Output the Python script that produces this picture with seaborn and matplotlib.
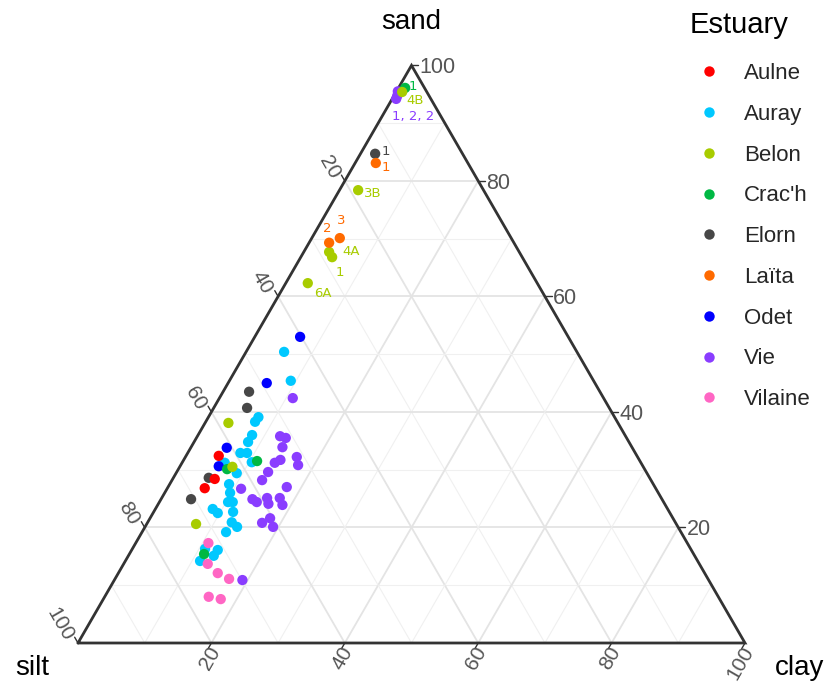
import numpy as np
import pandas as pd
import matplotlib
matplotlib.use("Agg")
import matplotlib.pyplot as plt
from matplotlib.lines import Line2D
import seaborn as sns

# ---------------- data (percent sand / silt / clay) ----------------
estuaries = ["Aulne", "Auray", "Belon", "Crac'h", "Elorn", "Laïta", "Odet", "Vie", "Vilaine"]
colors = ["#FF0000", "#00C8FF", "#A8CC00", "#00B844", "#474747", "#FF6A00", "#0000FF", "#8A3DFF", "#FF66C4"]

aulne_sand = [32.4, 28.4, 26.8]
aulne_silt = [62.7, 65.3, 67.6]
aulne_clay = [4.9, 6.3, 5.6]

auray_sand = [50.4, 45.4, 39.1, 38.3, 36.0, 34.8, 32.9, 32.9, 31.3, 31.2, 29.4, 27.5, 26.0,
              24.4, 24.4, 23.2, 22.5, 22.7, 20.9, 20.1, 19.2, 16.3, 16.1, 15.1, 14.2]
auray_silt = [43.9, 45.4, 53.4, 54.3, 55.9, 57.1, 59.2, 58.2, 58.3, 62.4, 61.5, 63.6, 64.2,
              65.3, 64.6, 68.2, 67.8, 65.4, 66.5, 66.1, 68.2, 72.8, 71.0, 72.1, 74.6]
auray_clay = [5.7, 9.2, 7.5, 7.4, 8.1, 8.1, 7.9, 8.9, 10.4, 6.4, 9.1, 8.9, 9.8,
              10.3, 11.0, 8.6, 9.7, 11.9, 12.6, 13.8, 12.6, 10.9, 12.9, 12.8, 11.2]

belon_sand = [95.4, 78.4, 67.7, 66.8, 62.3, 38.1, 30.5, 20.6]
belon_silt = [3.7, 18.8, 28.5, 28.5, 34.4, 58.4, 61.6, 72.0]
belon_clay = [0.9, 2.8, 3.8, 4.7, 3.3, 3.5, 7.9, 7.4]
belon_label = ["4B", "3B", "4A", "1", "6A", "", "", ""]

crach_sand = [96.1, 31.5, 30.1, 15.4]
crach_silt = [2.9, 57.4, 62.6, 73.4]
crach_clay = [1.0, 11.1, 7.3, 11.2]
crach_label = ["1", "", "", ""]

elorn_sand = [84.7, 43.5, 40.7, 28.6, 24.9]
elorn_silt = [13.1, 52.6, 54.3, 66.1, 70.6]
elorn_clay = [2.2, 3.9, 5.0, 5.3, 4.5]
elorn_label = ["1", "", "", "", ""]

laita_sand = [83.1, 69.3, 70.1]
laita_silt = [13.8, 27.7, 25.7]
laita_clay = [3.1, 3.0, 4.2]
laita_label = ["1", "2", "3"]

odet_sand = [53.0, 45.0, 33.8, 30.6]
odet_silt = [40.2, 49.2, 60.8, 63.6]
odet_clay = [6.8, 5.8, 5.4, 5.8]

vie_sand = [95.5, 94.7, 94.2, 42.4, 35.8, 35.5, 33.9, 32.2, 30.8, 31.7, 31.2, 29.6, 28.2,
            26.7, 27.0, 24.9, 24.4, 25.1, 24.1, 25.1, 23.9, 20.8, 21.6, 20.1, 10.9]
vie_silt = [4.3, 4.8, 5.2, 46.6, 51.8, 51.1, 52.4, 51.1, 51.6, 53.8, 54.9, 56.7, 58.3,
            62.2, 55.2, 61.4, 61.0, 59.1, 59.4, 57.2, 57.4, 62.0, 60.4, 60.7, 69.9]
vie_clay = [0.2, 0.5, 0.6, 11.0, 12.4, 13.4, 13.7, 16.7, 17.6, 14.5, 13.9, 13.7, 13.5,
            11.1, 17.8, 13.7, 14.6, 15.8, 16.5, 17.7, 18.7, 17.2, 18.0, 19.2, 19.2]
vie_label = ["", "1, 2, 2", "", "", "", "", "", "", "", "", "", "", "",
             "", "", "", "", "", "", "", "", "", "", "", ""]

vilaine_sand = [17.3, 13.7, 12.1, 11.1, 8.0, 7.6]
vilaine_silt = [71.8, 73.7, 73.0, 71.8, 76.4, 74.8]
vilaine_clay = [10.9, 12.6, 14.9, 17.1, 15.6, 17.6]

ticks = [20, 40, 60, 80, 100]

# ---------------- assemble table (drawing order) ----------------
def block(name, sand, silt, clay, label=None):
    if label is None:
        label = [""] * len(sand)
    return pd.DataFrame({"Estuary": name, "sand": sand, "silt": silt,
                         "clay": clay, "label": label})

df = pd.concat([
    block("Vie", vie_sand, vie_silt, vie_clay, vie_label),
    block("Auray", auray_sand, auray_silt, auray_clay),
    block("Elorn", elorn_sand, elorn_silt, elorn_clay, elorn_label),
    block("Aulne", aulne_sand, aulne_silt, aulne_clay),
    block("Odet", odet_sand, odet_silt, odet_clay),
    block("Vilaine", vilaine_sand, vilaine_silt, vilaine_clay),
    block("Crac'h", crach_sand, crach_silt, crach_clay, crach_label),
    block("Belon", belon_sand, belon_silt, belon_clay, belon_label),
    block("Laïta", laita_sand, laita_silt, laita_clay, laita_label),
], ignore_index=True)

H = np.sqrt(3) / 2


def to_xy(sand, clay):
    sand = np.asarray(sand, float) / 100.0
    clay = np.asarray(clay, float) / 100.0
    return clay + sand / 2.0, sand * H


df["x"], df["y"] = to_xy(df["sand"], df["clay"])

# ---------------- figure ----------------
sns.set_theme(style="white")
plt.rcParams["font.family"] = ["Liberation Sans", "DejaVu Sans"]

fig = plt.figure(figsize=(8.26, 6.84), dpi=100)
ax = fig.add_axes([78 / 826, 41 / 684, 667 / 826, 577.6 / 684])
ax.set_xlim(0, 1)
ax.set_ylim(0, H)
ax.axis("off")

# grid lines
for v in range(10, 100, 10):
    major = (v % 20 == 0)
    col = "#e4e4e4" if major else "#f0f0f0"
    lw = 1.3 if major else 0.8
    segs = [
        (to_xy([v, v], [0, 100 - v])),           # sand constant
        (to_xy([0, 100 - v], [v, v])),           # clay constant
        (to_xy([0, 100 - v], [100 - v, 0])),     # silt constant
    ]
    for sx, sy in segs:
        ax.plot(sx, sy, color=col, lw=lw, zorder=1, solid_capstyle="butt")

# triangle frame
ax.plot([0, 1, 0.5, 0], [0, 0, H, 0], color="#333333", lw=2.0, zorder=3,
        clip_on=False, solid_joinstyle="miter")

# ticks & tick labels
tl = 0.010
tcol = "#555555"
tfs = 15
for v in ticks:
    # sand: right edge, tick to the right
    x0, y0 = to_xy(v, 100 - v)
    ax.plot([x0, x0 + tl], [y0, y0], color="#333333", lw=1.0, clip_on=False, zorder=3)
    ax.text(x0 + tl + 0.0025, y0, str(v), ha="left", va="center_baseline",
            fontsize=tfs + 0.5, color=tcol, clip_on=False)
    # silt: left edge, tick up-left
    x0, y0 = to_xy(100 - v, 0)
    d = np.array([-0.5, H])
    perp = np.array([-H, -0.5])
    ax.plot([x0, x0 + d[0] * tl], [y0, y0 + d[1] * tl], color="#333333", lw=1.0,
            clip_on=False, zorder=3)
    p = np.array([x0, y0]) + d * 0.012 + perp * 0.0098
    ax.text(p[0], p[1], str(v), ha="right", va="center", rotation=-60,
            rotation_mode="anchor", fontsize=tfs, color=tcol, clip_on=False)
    # clay: bottom edge, tick down-left
    x0, y0 = to_xy(0, v)
    d = np.array([-0.5, -H])
    perp = np.array([H, -0.5])
    ax.plot([x0, x0 + d[0] * tl], [y0, y0 + d[1] * tl], color="#333333", lw=1.0,
            clip_on=False, zorder=3)
    p = np.array([x0, y0]) + d * 0.003 + perp * 0.0088
    ax.text(p[0], p[1], str(v), ha="right", va="center", rotation=60,
            rotation_mode="anchor", fontsize=tfs, color=tcol, clip_on=False)

# points
pal = dict(zip(estuaries, colors))
sns.scatterplot(data=df, x="x", y="y", hue="Estuary", hue_order=estuaries,
                palette=pal, s=55, linewidth=0, ax=ax, legend=False, zorder=4,
                clip_on=False)

# point labels (offsets in pixels, screen y up)
offsets = {
    ("Crac'h", "1"): (8, 1),
    ("Belon", "4B"): (13, -9),
    ("Vie", "1, 2, 2"): (16, -20),
    ("Elorn", "1"): (11, 2),
    ("Laïta", "1"): (10, -4),
    ("Belon", "3B"): (15, -3),
    ("Laïta", "2"): (-2, 14),
    ("Laïta", "3"): (1, 18),
    ("Belon", "4A"): (22, 0),
    ("Belon", "1"): (8, -15),
    ("Belon", "6A"): (15, -10),
}
for _, r in df[df["label"] != ""].iterrows():
    dx, dy = offsets[(r["Estuary"], r["label"])]
    ax.annotate(r["label"], (r["x"], r["y"]), xytext=(dx, dy),
                textcoords="offset pixels", ha="center", va="center",
                fontsize=9.5, color=pal[r["Estuary"]], family="DejaVu Sans",
                zorder=5, annotation_clip=False)

# axis titles
fig.text(411 / 826, 1 - 22 / 684, "sand", ha="center", va="center", fontsize=20, color="black")
fig.text(32 / 826, 1 - 668 / 684, "silt", ha="center", va="center", fontsize=20, color="black")
fig.text(800 / 826, 1 - 668 / 684, "clay", ha="center", va="center", fontsize=20, color="black")

# legend
handles = [Line2D([], [], marker="o", linestyle="", markersize=7.5,
                  markerfacecolor=pal[e], markeredgewidth=0) for e in estuaries]
fig.text(690 / 826, 1 - 25 / 684, "Estuary", ha="left", va="center", fontsize=21, color="black")
leg = fig.legend(handles, estuaries, loc="upper left",
                 bbox_to_anchor=(700 / 826, 1 - 63 / 684), frameon=False,
                 fontsize=16, handlelength=0.8, handletextpad=1.18,
                 labelspacing=0.89, borderpad=0, borderaxespad=0)

fig.savefig("out.png", dpi=100, facecolor="white")
